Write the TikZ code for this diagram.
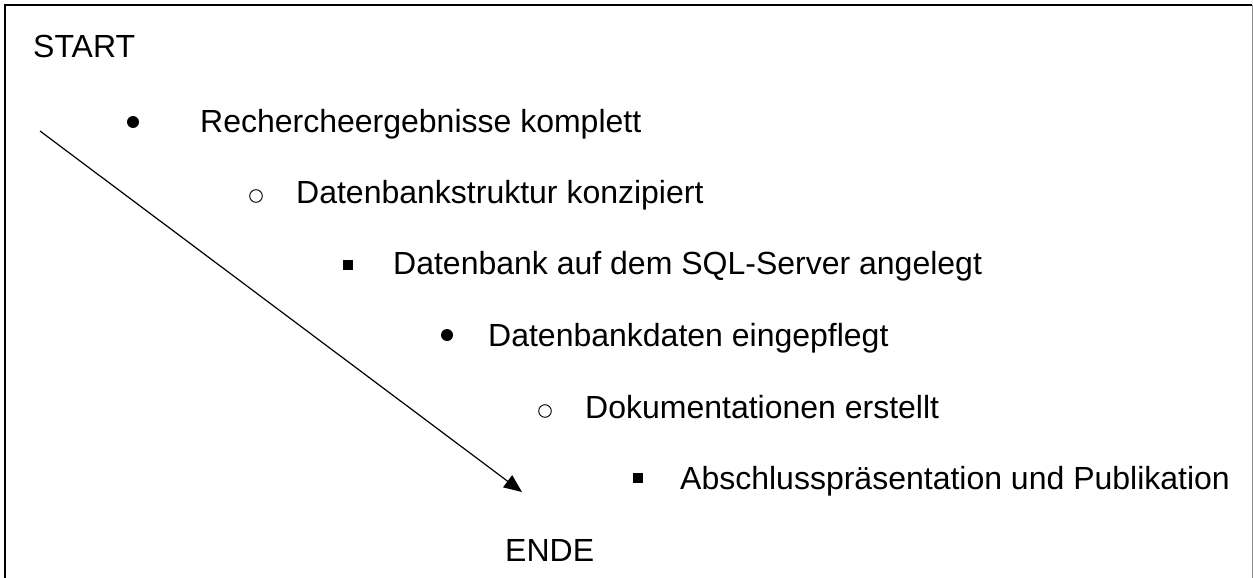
\documentclass[tikz,border=0pt]{standalone}
\usepackage{fontspec}
\setmainfont{Liberation Sans}
\usetikzlibrary{arrows.meta}
\begin{document}
\begin{tikzpicture}[x=1pt,y=-1pt,
  lbl/.style={anchor=base west,inner sep=0pt,font=\fontsize{32}{38}\selectfont},
  dotb/.style={fill=black},
  ringb/.style={draw=black,line width=0.9pt},
  sqb/.style={fill=black}]
\useasboundingbox (0,0) rectangle (1253,578);
% frame (open at the bottom edge)
\draw[line width=1.6pt] (5,600) -- (5,5) -- (1252,5);
\draw[line width=0.8pt,black!45] (1252,5) -- (1252,600);

\node[lbl] (start) at (33,58) {START};

% list levels
\fill[dotb] (133,122) circle (6);
\node[lbl] (i1) at (200,132) {Rechercheergebnisse komplett};

\draw[ringb] (256,196) circle (6.3);
\node[lbl] (i2) at (296,203) {Datenbankstruktur konzipiert};

\fill[sqb] (343,260) rectangle (353,270);
\node[lbl] (i3) at (393,274.5) {Datenbank auf dem SQL-Server angelegt};

\fill[dotb] (447,335) circle (6);
\node[lbl] (i4) at (488,346) {Datenbankdaten eingepflegt};

\draw[ringb] (545,411) circle (6.3);
\node[lbl] (i5) at (585,418) {Dokumentationen erstellt};

\fill[sqb] (633,473) rectangle (643,483);
\node[lbl] (i6) at (680,489.5) {Abschlusspräsentation und Publikation};

\node[lbl] (ende) at (505,561) {ENDE};

% diagonal arrow
\coordinate (a0) at (40,131);
\coordinate (a1) at (522,492);
\draw[line width=1.2pt,-{Triangle[length=18pt,width=15pt]}] (a0) -- (a1);
\end{tikzpicture}
\end{document}
